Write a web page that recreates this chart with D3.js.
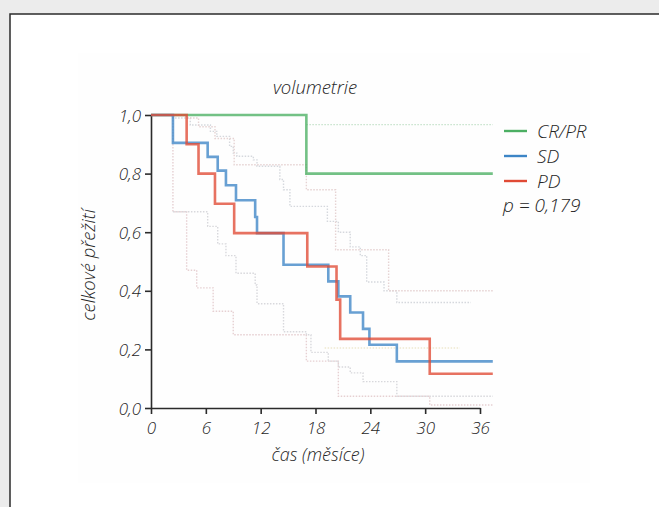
<!DOCTYPE html>
<html><head><meta charset="utf-8">
<script src="https://cdn.jsdelivr.net/npm/d3@7"></script>
<style>
html,body{margin:0;padding:0;background:#ececec;overflow:hidden}
svg{display:block}
text{font-family:"Open Sans",sans-serif;font-style:italic;font-weight:300;fill:#262626}
</style></head>
<body>
<svg id="chart" width="659" height="507"></svg>
<script>
// ---- data ----
const title = "volumetrie";
const xLabel = "čas (měsíce)";
const yLabel = "celkové přežití";
const xTicks = [0, 6, 12, 18, 24, 30, 36];
const yTicks = [0, 0.2, 0.4, 0.6, 0.8, 1.0];
const yTickLabels = ["0,0", "0,2", "0,4", "0,6", "0,8", "1,0"];
const seriesNames = ["CR/PR", "SD", "PD"];
const seriesColors = ["#4caf63", "#3d85c6", "#e04a35"];
const pValue = "p = 0,179";

// Kaplan–Meier steps [month, survival]
const crpr = [[0, 1], [17.0, 0.8], [37.4, 0.8]];
const sd = [[0, 1], [2.4, 0.905], [6.2, 0.857], [7.3, 0.81], [8.2, 0.76], [9.3, 0.709],
  [11.4, 0.652], [11.6, 0.597], [14.5, 0.489], [19.4, 0.432], [20.5, 0.381], [21.8, 0.326],
  [23.2, 0.27], [23.9, 0.216], [26.9, 0.159], [37.4, 0.159]];
const pd = [[0, 1], [3.9, 0.9], [5.2, 0.8], [7.0, 0.697], [9.1, 0.597], [17.1, 0.483],
  [20.3, 0.37], [20.7, 0.236], [30.5, 0.117], [37.4, 0.117]];

// faint confidence-interval steps
const ciGreenUpper = [[17.0, 0.967], [37.4, 0.967]];
const ciUpperA = [[0, 1], [2.4, 0.99], [4.3, 0.966], [6.5, 0.944], [7.2, 0.927], [8.6, 0.893],
  [9.0, 0.87], [9.4, 0.859], [11.2, 0.847], [11.6, 0.825], [14.1, 0.78], [14.5, 0.745],
  [15.2, 0.688], [19.3, 0.637], [20.5, 0.6], [21.8, 0.55], [22.9, 0.52], [23.6, 0.43],
  [25.5, 0.4], [26.9, 0.36], [35.0, 0.36]];
const ciUpperB = [[0, 1], [3.9, 0.99], [5.2, 0.96], [7.0, 0.92], [9.1, 0.83], [17.0, 0.745],
  [20.2, 0.54], [26.0, 0.40], [37.4, 0.40]];
const ciLowerA = [[0, 1], [2.4, 0.67], [3.9, 0.47], [5.0, 0.41], [6.8, 0.33], [9.0, 0.25],
  [17.0, 0.16], [20.5, 0.04], [30.5, 0.01], [37.4, 0.01]];
const ciLowerB = [[2.4, 0.67], [6.2, 0.62], [7.3, 0.56], [8.2, 0.52], [9.3, 0.46], [11.4, 0.42],
  [11.6, 0.356], [14.5, 0.26], [17.0, 0.25], [17.5, 0.19], [19.4, 0.16], [20.5, 0.14],
  [21.8, 0.12], [23.2, 0.09], [26.9, 0.04], [37.4, 0.04]];
const ciMid = [[19.0, 0.205], [33.8, 0.205]];

// ---- drawing ----
const svg = d3.select("#chart");
svg.append("rect").attr("x", 10).attr("y", 14).attr("width", 700).attr("height", 600)
  .attr("fill", "#fff").attr("stroke", "#2b2b2b").attr("stroke-width", 1.5);
svg.append("rect").attr("x", 78).attr("y", 53).attr("width", 512).attr("height", 430)
  .attr("fill", "#fefefe");

const x = d3.scaleLinear().domain([0, 36]).range([151, 480]);
const y = d3.scaleLinear().domain([0, 1]).range([408, 115]);
const line = d3.line().x(d => x(d[0])).y(d => y(d[1])).curve(d3.curveStepAfter);

const ci = [
  [ciGreenUpper, "#c6e2cb"], [ciUpperA, "#d5d8dd"], [ciUpperB, "#e6d3d3"],
  [ciLowerA, "#e6d0d2"], [ciLowerB, "#d8d8dc"], [ciMid, "#eee9d0"]
];
ci.forEach(([d, c]) => svg.append("path").attr("d", line(d)).attr("fill", "none")
  .attr("stroke", c).attr("stroke-width", 1.4).attr("stroke-dasharray", "1.5,1.5"));

// axes
const xAxis = d3.axisBottom(x).tickValues(xTicks).tickSize(6).tickSizeOuter(0).tickFormat(d3.format("d"));
const gx = svg.append("g").attr("transform", `translate(0,${y(0)})`).call(xAxis);
const yAxis = d3.axisLeft(y).tickValues(yTicks).tickSize(6).tickSizeOuter(0)
  .tickFormat((d, i) => yTickLabels[i]);
const gy = svg.append("g").attr("transform", `translate(${x(0)},0)`).call(yAxis);
[gx, gy].forEach(g => {
  g.select(".domain").attr("stroke", "#2b2b2b").attr("stroke-width", 1.6);
  g.selectAll(".tick line").attr("stroke", "#2b2b2b").attr("stroke-width", 1.6);
  g.selectAll("text").attr("fill", "#262626").style("font-size", "17px")
    .style("font-family", "'Open Sans',sans-serif").style("font-style", "italic").style("font-weight", 300);
});
gx.selectAll(".tick text").attr("dy", null).attr("y", 26);
gy.selectAll(".tick text").attr("x", -10).attr("dy", "0.36em");

// survival lines
[[crpr, 0], [sd, 1], [pd, 2]].forEach(([d, i]) => svg.append("path").attr("d", line(d))
  .attr("fill", "none").attr("stroke", seriesColors[i]).attr("stroke-width", 2.6).attr("opacity", 0.78));

// titles
svg.append("text").attr("x", 315).attr("y", 94).attr("text-anchor", "middle").style("font-size", "18.5px").text(title);
svg.append("text").attr("x", 318).attr("y", 461).attr("text-anchor", "middle").style("font-size", "18px").text(xLabel);
svg.append("text").attr("transform", "translate(95,265) rotate(-90)").attr("text-anchor", "middle")
  .style("font-size", "18.5px").text(yLabel);

// legend
const legY = [131, 156, 181];
seriesNames.forEach((n, i) => {
  svg.append("line").attr("x1", 504).attr("x2", 527).attr("y1", legY[i]).attr("y2", legY[i])
    .attr("stroke", seriesColors[i]).attr("stroke-width", 2.4);
  svg.append("text").attr("x", 537).attr("y", legY[i]).attr("dy", "0.36em").style("font-size", "19px").text(n);
});
svg.append("text").attr("x", 503).attr("y", 212).style("font-size", "19px").text(pValue);
</script>
</body></html>
